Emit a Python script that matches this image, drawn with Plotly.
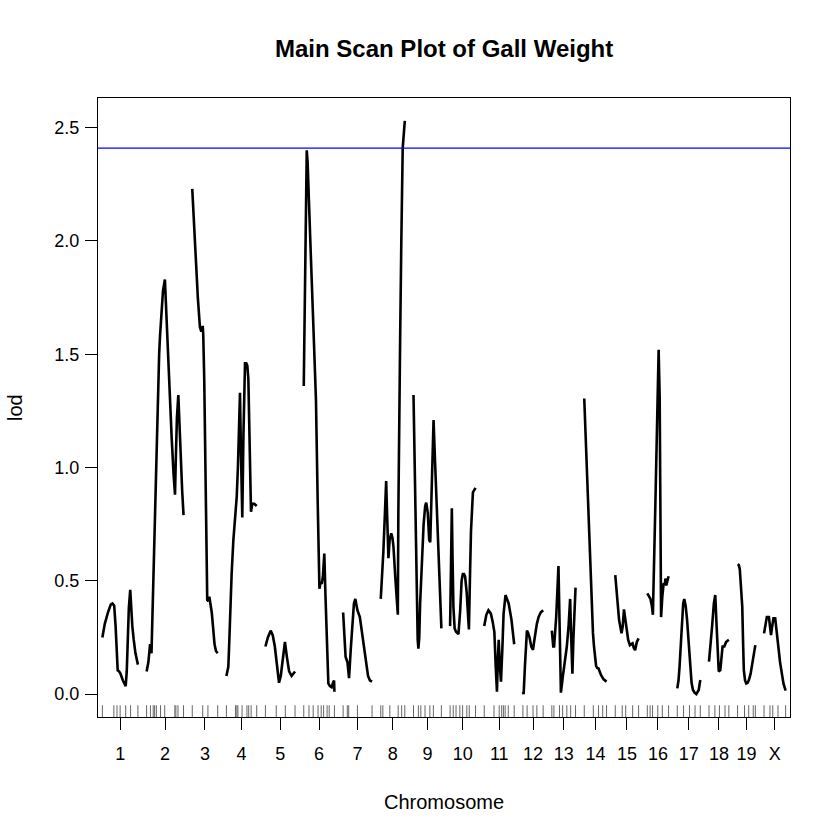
import plotly.graph_objects as go

chrom_names = ['1', '2', '3', '4', '5', '6', '7', '8', '9', '10',
               '11', '12', '13', '14', '15', '16', '17', '18', '19', 'X']

# LOD profiles: position (cM within chromosome) and LOD score
pos_1 = [0, 7, 16, 24, 29, 34, 38, 41, 44, 48, 52, 59, 67, 70, 73, 76, 80, 83, 86, 90, 95, 102]
lod_1 = [0.25, 0.31, 0.36, 0.395, 0.40, 0.39, 0.30, 0.17, 0.105, 0.10, 0.09, 0.06, 0.035, 0.10, 0.25, 0.38, 0.46, 0.37, 0.30, 0.24, 0.18, 0.13]
pos_2 = [0, 5, 10, 14, 16, 20, 24, 29, 33.5, 36, 38.5, 43, 47, 52.5, 57, 62, 67, 72, 77, 81.5, 84, 87, 91, 94, 98, 102, 106]
lod_2 = [0.10, 0.14, 0.22, 0.18, 0.30, 0.55, 0.755, 1.15, 1.39, 1.50, 1.58, 1.70, 1.78, 1.83, 1.65, 1.48, 1.30, 1.13, 0.98, 0.88, 1.05, 1.22, 1.32, 1.18, 1.02, 0.90, 0.79]
pos_3 = [0, 5, 10, 16, 22, 26, 30, 31.5, 34.4, 37, 40, 43, 46, 49, 52, 56, 60, 64, 68, 73]
lod_3 = [2.23, 2.06, 1.92, 1.75, 1.62, 1.60, 1.625, 1.59, 1.39, 1.10, 0.75, 0.415, 0.41, 0.43, 0.40, 0.36, 0.29, 0.22, 0.19, 0.18]
pos_4 = [0, 5.5, 8, 11, 15, 20, 24.7, 29.6, 33, 36, 39, 42, 45.6, 49, 53.4, 57, 60, 63, 67, 70.6, 74.3, 80, 87]
lod_4 = [0.08, 0.12, 0.22, 0.38, 0.53, 0.68, 0.77, 0.87, 1.00, 1.20, 1.33, 1.05, 0.78, 1.15, 1.46, 1.46, 1.45, 1.39, 1.10, 0.805, 0.84, 0.84, 0.83]
pos_5 = [0, 7, 15, 21, 27, 33, 39, 44, 50, 56, 62, 68, 75, 80, 85]
lod_5 = [0.21, 0.25, 0.28, 0.26, 0.21, 0.13, 0.05, 0.08, 0.17, 0.23, 0.16, 0.10, 0.08, 0.09, 0.10]
pos_6 = [0, 4, 8.6, 11, 14, 20, 27, 35, 40, 45, 48, 52, 55, 59, 62, 66, 70.6, 75, 80, 84, 87, 88]
lod_6 = [1.36, 1.95, 2.40, 2.35, 2.18, 1.95, 1.65, 1.30, 0.85, 0.465, 0.49, 0.49, 0.52, 0.62, 0.45, 0.20, 0.047, 0.035, 0.03, 0.05, 0.06, 0.01]
pos_7 = [0, 3, 7, 12.5, 17, 22, 27, 31, 35, 41, 48, 55, 62, 71.5, 77, 83]
lod_7 = [0.36, 0.25, 0.165, 0.14, 0.07, 0.20, 0.33, 0.40, 0.42, 0.37, 0.34, 0.26, 0.18, 0.08, 0.06, 0.055]
pos_8 = [0, 4, 7.5, 12, 15.5, 18.5, 22, 25.5, 30, 33.5, 36.5, 41.5, 45.5, 49, 50.5, 52.5, 55.5, 59, 63, 69]
lod_8 = [0.42, 0.52, 0.63, 0.80, 0.94, 0.78, 0.60, 0.68, 0.71, 0.69, 0.65, 0.52, 0.42, 0.35, 0.80, 1.25, 1.55, 2.00, 2.41, 2.53]
pos_9 = [0, 3, 6, 9, 12, 14, 16.5, 19, 24, 29, 33.5, 36.5, 41, 45, 48, 52, 57.5, 62, 67, 72.5, 80]
lod_9 = [1.32, 1.02, 0.72, 0.42, 0.24, 0.20, 0.25, 0.40, 0.61, 0.75, 0.83, 0.845, 0.80, 0.68, 0.67, 0.95, 1.21, 1.02, 0.80, 0.56, 0.29]
pos_10 = [0, 3, 5, 7, 9.5, 13, 17, 24, 29, 33, 36.5, 40, 43, 47.5, 54, 57.5, 60, 65.5, 73]
lod_10 = [0.30, 0.65, 0.82, 0.60, 0.385, 0.29, 0.275, 0.265, 0.37, 0.50, 0.53, 0.53, 0.52, 0.45, 0.285, 0.55, 0.72, 0.89, 0.91]
pos_11 = [0, 6, 12, 19, 24, 29, 33, 36.5, 39, 41.5, 45, 48, 52, 55.5, 61, 66, 70, 78, 86]
lod_11 = [0.30, 0.35, 0.37, 0.355, 0.32, 0.275, 0.12, 0.01, 0.15, 0.24, 0.12, 0.055, 0.20, 0.355, 0.437, 0.42, 0.40, 0.33, 0.22]
pos_12 = [0, 2, 6, 11.5, 15, 19, 24, 29, 32, 35, 40, 45, 51, 58]
lod_12 = [0.01, 0.0, 0.13, 0.28, 0.27, 0.25, 0.21, 0.195, 0.23, 0.27, 0.31, 0.34, 0.36, 0.37]
pos_13 = [0, 4, 6.5, 12.5, 19, 22.5, 26, 31.5, 37.5, 43, 48, 52.5, 55.5, 59, 62, 64, 68]
lod_13 = [0.28, 0.21, 0.21, 0.34, 0.565, 0.28, 0.006, 0.077, 0.14, 0.21, 0.30, 0.42, 0.25, 0.09, 0.25, 0.355, 0.47]
pos_14 = [0, 4, 9, 12, 17, 22, 25, 28, 31, 34, 37.5, 41, 48, 55.5, 64]
lod_14 = [1.305, 1.13, 0.92, 0.78, 0.55, 0.35, 0.27, 0.21, 0.16, 0.125, 0.115, 0.113, 0.084, 0.065, 0.055]
pos_15 = [0, 6, 11, 18, 21.5, 25, 29, 32, 37, 42, 45, 49.5, 53, 57, 62, 67]
lod_15 = [0.525, 0.43, 0.327, 0.268, 0.30, 0.374, 0.32, 0.283, 0.24, 0.216, 0.22, 0.224, 0.205, 0.194, 0.23, 0.246]
pos_16 = [0, 4, 9, 13, 16, 23, 30, 32.5, 35.5, 37.5, 39.5, 43, 47, 50, 52, 54.5, 61]
lod_16 = [0.445, 0.43, 0.42, 0.39, 0.35, 0.83, 1.30, 1.52, 1.31, 0.80, 0.34, 0.43, 0.49, 0.48, 0.51, 0.48, 0.52]
pos_17 = [0, 3.5, 6.5, 10, 13.5, 17, 20, 24, 28, 32.5, 37.5, 41, 45, 50, 54.5, 58.5, 61.5, 66]
lod_17 = [0.025, 0.06, 0.12, 0.22, 0.33, 0.40, 0.42, 0.39, 0.33, 0.22, 0.12, 0.05, 0.018, 0.005, 0.0, 0.008, 0.018, 0.062]
pos_18 = [0, 5, 9, 14, 18, 21, 23, 25.5, 28, 32.5, 36, 39, 44, 49, 57]
lod_18 = [0.143, 0.22, 0.30, 0.40, 0.437, 0.33, 0.268, 0.16, 0.10, 0.106, 0.17, 0.21, 0.21, 0.23, 0.24]
pos_19 = [0, 3.5, 6.5, 10, 13.5, 16, 18, 21.5, 25, 29, 32.5, 37.5, 42, 47, 51]
lod_19 = [0.573, 0.57, 0.55, 0.48, 0.386, 0.22, 0.106, 0.06, 0.047, 0.05, 0.062, 0.09, 0.128, 0.17, 0.216]
pos_X = [0, 4, 8, 14, 17, 20, 23.5, 27, 32, 36.5, 41, 46, 51, 56, 62]
lod_X = [0.268, 0.31, 0.34, 0.34, 0.30, 0.26, 0.30, 0.334, 0.334, 0.28, 0.21, 0.14, 0.09, 0.045, 0.015]

# marker positions (cM) for the rug
mk_1 = [0, 33, 42, 51, 67, 81, 102]
mk_2 = [0, 11, 19, 23, 28, 40, 52, 81, 84, 90, 106]
mk_3 = [0, 30, 45, 73]
mk_4 = [0, 26, 30, 33, 45, 59, 64, 71, 87]
mk_5 = [0, 31, 57, 85]
mk_6 = [0, 15, 27, 41, 50, 57, 67, 73, 88]
mk_7 = [0, 12, 16, 41, 83]
mk_8 = [0, 6, 26, 50, 60, 69]
mk_9 = [0, 14, 21, 33, 47, 57, 80]
mk_10 = [0, 9, 17, 28, 36, 48, 55, 73]
mk_11 = [0, 28, 43, 50, 55, 60, 69, 86]
mk_12 = [0, 12, 29, 40, 58]
mk_13 = [0, 6, 22, 31, 43, 54, 68]
mk_14 = [0, 26, 41, 53, 64]
mk_15 = [0, 20, 30, 50, 67]
mk_16 = [0, 8, 15, 30, 43, 61]
mk_17 = [0, 18, 35, 51, 66]
mk_18 = [0, 17, 30, 46, 57]
mk_19 = [0, 20, 32, 45, 51]
mk_X = [0, 17, 25, 40, 62]

threshold = 2.41
gap = 25
y_ticks = [0.0, 0.5, 1.0, 1.5, 2.0, 2.5]
y_ticktext = ['0.0', '0.5', '1.0', '1.5', '2.0', '2.5']

chroms = [
    (chrom_names[0], pos_1, lod_1, mk_1), (chrom_names[1], pos_2, lod_2, mk_2),
    (chrom_names[2], pos_3, lod_3, mk_3), (chrom_names[3], pos_4, lod_4, mk_4),
    (chrom_names[4], pos_5, lod_5, mk_5), (chrom_names[5], pos_6, lod_6, mk_6),
    (chrom_names[6], pos_7, lod_7, mk_7), (chrom_names[7], pos_8, lod_8, mk_8),
    (chrom_names[8], pos_9, lod_9, mk_9), (chrom_names[9], pos_10, lod_10, mk_10),
    (chrom_names[10], pos_11, lod_11, mk_11), (chrom_names[11], pos_12, lod_12, mk_12),
    (chrom_names[12], pos_13, lod_13, mk_13), (chrom_names[13], pos_14, lod_14, mk_14),
    (chrom_names[14], pos_15, lod_15, mk_15), (chrom_names[15], pos_16, lod_16, mk_16),
    (chrom_names[16], pos_17, lod_17, mk_17), (chrom_names[17], pos_18, lod_18, mk_18),
    (chrom_names[18], pos_19, lod_19, mk_19), (chrom_names[19], pos_X, lod_X, mk_X),
]

FONT = "Liberation Sans, Arial, Helvetica, sans-serif"
fig = go.Figure()

offset = 0.0
mids = []
shapes = []
for name, pos, lod, mk in chroms:
    fig.add_trace(go.Scatter(
        x=[offset + p for p in pos], y=lod, mode='lines',
        line=dict(color='black', width=2.6), showlegend=False, hoverinfo='skip'))
    L = max(pos)
    mids.append(offset + L / 2)
    for m in mk:
        shapes.append(dict(type='line', xref='x', yref='paper',
                           x0=offset + m, x1=offset + m, y0=0.0, y1=0.019,
                           line=dict(color='#666666', width=1)))
    offset += L + gap
total = offset - gap

shapes.append(dict(type='line', xref='paper', yref='y', x0=0, x1=1,
                   y0=threshold, y1=threshold, line=dict(color='blue', width=1.2)))

ymax = max(max(c[2]) for c in chroms)
pad = 0.04 * ymax

fig.update_layout(
    width=840, height=840,
    margin=dict(l=98, r=50, t=98, b=123),
    paper_bgcolor='white', plot_bgcolor='white',
    font=dict(family=FONT, color='black', size=18),
    shapes=shapes,
    xaxis=dict(range=[-gap / 2, total + gap / 2], tickvals=mids, ticktext=chrom_names,
               ticks='outside', ticklen=12, tickwidth=1, tickcolor='black',
               ticklabelstandoff=8,
               showline=True, mirror=True, linecolor='black', linewidth=1,
               showgrid=False, zeroline=False, tickfont=dict(size=18)),
    yaxis=dict(range=[-pad, ymax + pad], tickvals=y_ticks, ticktext=y_ticktext,
               ticks='outside', ticklen=12, tickwidth=1, tickcolor='black',
               ticklabelstandoff=2,
               showline=True, mirror=True, linecolor='black', linewidth=1,
               showgrid=False, zeroline=False, tickfont=dict(size=18)),
    annotations=[
        dict(text='<b>Main Scan Plot of Gall Weight</b>', xref='paper', yref='paper',
             x=0.5, y=(717 - 49) / 619, xanchor='center', yanchor='middle',
             showarrow=False, font=dict(size=24, family=FONT)),
        dict(text='Chromosome', xref='paper', yref='paper', x=0.5, y=-(802 - 717) / 619,
             xanchor='center', yanchor='middle', showarrow=False, font=dict(size=20, family=FONT)),
        dict(text='lod', xref='paper', yref='paper', x=-(98 - 15) / 692, y=(717 - 408) / 619,
             xanchor='center', yanchor='middle', textangle=-90, showarrow=False,
             font=dict(size=20, family=FONT)),
    ],
)

fig.write_html("out.html", config={'displayModeBar': False},
               post_script="document.body.style.margin='0';document.body.style.padding='0';")
